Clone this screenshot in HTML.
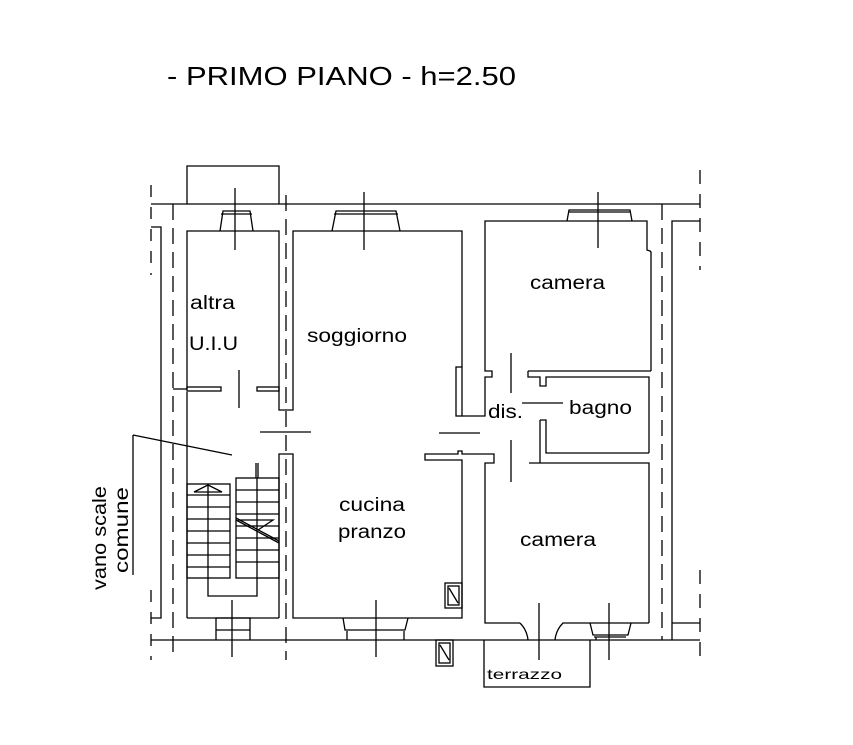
<!DOCTYPE html>
<html><head><meta charset="utf-8"><style>
html,body{margin:0;padding:0;background:#fff;}
svg{display:block;}
text{font-family:"Liberation Sans",Arial,sans-serif;fill:#000;}
</style></head><body>
<svg width="853" height="745" viewBox="0 0 853 745" xmlns="http://www.w3.org/2000/svg">
<text x="167" y="85" font-size="26" textLength="349" lengthAdjust="spacingAndGlyphs">- PRIMO PIANO - h=2.50</text>
<g stroke="#000" stroke-width="1.3" fill="none">
<line x1="151" y1="204" x2="700" y2="204"/>
<line x1="151" y1="640" x2="700" y2="640"/>
<polyline points="187,204 187,166 279,166 279,204"/>
<polyline points="151,227 161,227 161,618 151,618"/>
<line x1="151" y1="185" x2="151" y2="275" stroke-dasharray="12,10"/>
<line x1="151" y1="590" x2="151" y2="660" stroke-dasharray="12,10"/>
<line x1="173" y1="204" x2="173" y2="660" stroke-dasharray="16,8"/>
<line x1="286" y1="195" x2="286" y2="660" stroke-dasharray="16,8"/>
<line x1="662" y1="204" x2="662" y2="640" stroke-dasharray="16,8"/>
<line x1="700" y1="170" x2="700" y2="270" stroke-dasharray="14,10"/>
<line x1="700" y1="570" x2="700" y2="665" stroke-dasharray="14,10"/>
<polyline points="187,389 187,231 279,231 279,389"/>
<line x1="173" y1="389" x2="187" y2="389"/>
<rect x="187" y="387" width="34" height="4"/>
<rect x="257" y="387" width="22" height="4"/>
<line x1="239" y1="370" x2="239" y2="408"/>
<polyline points="279,389 279,410 293,410 293,231 462,231 462,367"/>
<rect x="456" y="367" width="6" height="49"/>
<polyline points="462,416 485,416 485,377 492,377 492,371 485,371 485,221 647,221 647,250 650,251 651,252 651,371"/>
<polyline points="672,640 672,221 700,221"/>
<line x1="528" y1="371" x2="651" y2="371"/>
<polyline points="528,371 528,377 540,377 540,386 546,386 546,377 649,377 649,453"/>
<line x1="511" y1="353" x2="511" y2="393"/>
<line x1="522" y1="403" x2="563" y2="403"/>
<line x1="260" y1="432" x2="311" y2="432"/>
<line x1="439" y1="433" x2="480" y2="433"/>
<polyline points="540,420 546,420 546,453 649,453"/>
<line x1="540" y1="420" x2="540" y2="463"/>
<polyline points="529,463 649,463 649,623"/>
<line x1="511" y1="440" x2="511" y2="482"/>
<polyline points="279,618 279,454 293,454 293,618 462,618 462,460 425,460 425,454 458,454 458,451 462,451 462,454 494,454 494,463 485,463 485,623 520,623"/>
<line x1="187" y1="392" x2="187" y2="618"/>
<line x1="187" y1="618" x2="279" y2="618"/>
<path d="M520,623 Q527,630 528,640"/>
<path d="M555,640 Q556,630 563,623 L649,623"/>
<line x1="672" y1="623" x2="700" y2="623"/>
<line x1="539" y1="603" x2="539" y2="660"/>
<line x1="609" y1="603" x2="609" y2="660"/>
<g>
<polyline points="220,231 223,211 250,211 253,231"/><line x1="221" y1="214" x2="252" y2="214"/><line x1="235" y1="188" x2="235" y2="250"/>
<polyline points="332,231 336,211 396,211 400,231"/><line x1="334" y1="214" x2="398" y2="214"/><line x1="364" y1="192" x2="364" y2="250"/>
<polyline points="567,221 569,210 630,210 632,221"/><line x1="568" y1="212" x2="631" y2="212"/><line x1="598" y1="192" x2="598" y2="248"/>
<polyline points="216,640 216,618 250,618 250,640"/><line x1="216" y1="630" x2="250" y2="630"/><line x1="232" y1="600" x2="232" y2="657"/>
<polyline points="343,618 345,630 405,630 408,618"/><line x1="347" y1="631" x2="347" y2="640"/><line x1="404" y1="631" x2="404" y2="640"/><line x1="376" y1="600" x2="376" y2="657"/>
<polyline points="590,623 593,635 628,635 631,623"/><line x1="594" y1="637" x2="626" y2="637"/><line x1="596" y1="637" x2="596" y2="640"/>
</g>
<line x1="133" y1="435" x2="232" y2="455"/>
<line x1="133" y1="435" x2="133" y2="575"/>
<rect x="187" y="484" width="43" height="94"/>
<rect x="236" y="478" width="43" height="100"/>
<polyline points="208,484 208,596 257,596 257,478"/>
<g>
<line x1="187" y1="495" x2="230" y2="495"/><line x1="187" y1="507" x2="230" y2="507"/><line x1="187" y1="519" x2="230" y2="519"/><line x1="187" y1="531" x2="230" y2="531"/><line x1="187" y1="543" x2="230" y2="543"/><line x1="187" y1="555" x2="230" y2="555"/><line x1="187" y1="567" x2="230" y2="567"/>
<line x1="236" y1="490" x2="279" y2="490"/><line x1="236" y1="502" x2="279" y2="502"/><line x1="236" y1="514" x2="279" y2="514"/><line x1="236" y1="526" x2="279" y2="526"/><line x1="236" y1="538" x2="279" y2="538"/><line x1="236" y1="550" x2="279" y2="550"/><line x1="236" y1="562" x2="279" y2="562"/>
</g>
<polyline points="194,492 208,485 222,492 194,492"/>
<line x1="236" y1="518" x2="279" y2="541"/><line x1="236" y1="520" x2="279" y2="543"/>
<polyline points="238,520 273,520 258,530"/>
<line x1="256" y1="463" x2="256" y2="478"/><line x1="258" y1="463" x2="258" y2="478"/>
<rect x="445" y="583" width="17" height="25"/><rect x="448" y="586" width="11" height="19"/><line x1="449" y1="588" x2="458" y2="603"/>
<rect x="436" y="640" width="17" height="26"/><rect x="439" y="643" width="11" height="20"/><line x1="440" y1="645" x2="449" y2="660"/>
<polyline points="484,640 484,687 590,687 590,640"/>
</g>
<g font-size="19" lengthAdjust="spacingAndGlyphs">
<text x="190" y="309" textLength="45" lengthAdjust="spacingAndGlyphs">altra</text>
<text x="189" y="350" textLength="49" lengthAdjust="spacingAndGlyphs">U.I.U</text>
<text x="307" y="342" textLength="100" lengthAdjust="spacingAndGlyphs">soggiorno</text>
<text x="530" y="289" textLength="75" lengthAdjust="spacingAndGlyphs">camera</text>
<text x="488" y="418" textLength="35" lengthAdjust="spacingAndGlyphs">dis.</text>
<text x="569" y="414" textLength="63" lengthAdjust="spacingAndGlyphs">bagno</text>
<text x="339" y="511" textLength="66" lengthAdjust="spacingAndGlyphs">cucina</text>
<text x="338" y="538" textLength="68" lengthAdjust="spacingAndGlyphs">pranzo</text>
<text x="520" y="546" textLength="76" lengthAdjust="spacingAndGlyphs">camera</text>
</g>
<text x="487" y="679" font-size="14" textLength="75" lengthAdjust="spacingAndGlyphs">terrazzo</text>
<text font-size="19" transform="translate(106,590) rotate(-90)" textLength="104" lengthAdjust="spacingAndGlyphs">vano scale</text>
<text font-size="19" transform="translate(128,573) rotate(-90)" textLength="86" lengthAdjust="spacingAndGlyphs">comune</text>
</svg>
</body></html>
